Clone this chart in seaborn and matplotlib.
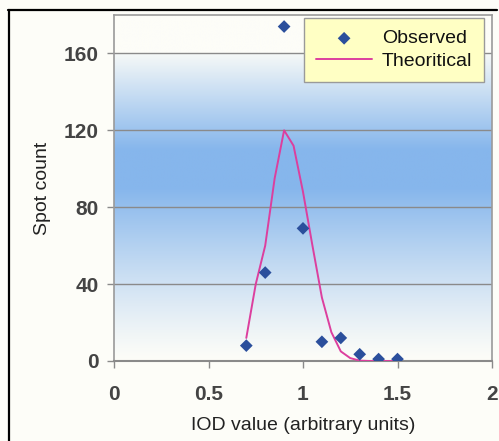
import numpy as np
import pandas as pd
import matplotlib
matplotlib.use("Agg")
import matplotlib.pyplot as plt
import seaborn as sns
from matplotlib.lines import Line2D

# ---- data ----
obs_x = [0.7, 0.8, 0.9, 1.0, 1.1, 1.2, 1.3, 1.4, 1.5]
obs_y = [8, 46, 174, 69, 10, 12, 3.5, 1, 1]
theo_x = [0.70, 0.75, 0.80, 0.85, 0.90, 0.95, 1.00, 1.05, 1.10, 1.15,
          1.20, 1.25, 1.30, 1.35, 1.40, 1.45, 1.50]
theo_y = [12, 40, 60, 95, 120, 112, 88, 60, 33, 15,
          5, 1.5, 0.2, 0, 0, 0, 0]
x_ticks = [0, 0.5, 1, 1.5, 2]
x_tick_labels = ["0", "0.5", "1", "1.5", "2"]
y_ticks = [0, 40, 80, 120, 160]
y_tick_labels = ["0", "40", "80", "120", "160"]
series_labels = ["Observed", "Theoritical"]
x_label = "IOD value (arbitrary units)"
y_label = "Spot count"

obs_df = pd.DataFrame({"x": obs_x, "y": obs_y})
theo_df = pd.DataFrame({"x": theo_x, "y": theo_y})

sns.set_theme(style="white")
plt.rcParams["font.family"] = ["Liberation Sans", "DejaVu Sans"]

bg = "#fdfdf8"
fig = plt.figure(figsize=(4.99, 4.41), dpi=100, facecolor=bg)
ax = fig.add_axes([114 / 499, 1 - 361 / 441, 378 / 499, 346 / 441])
ax.set_facecolor(bg)

# gradient background (Excel-style centre band between 0 and 160)
yy = np.linspace(0, 180, 720)
t = np.where(yy < 90, np.clip(yy / 90, 0, 1) ** 1.2,
             np.where(yy <= 110, 1.0,
                      np.where(yy <= 160, 1 - (yy - 110) / 50 * 0.94, 0.0)))
white = np.array([253, 253, 248]) / 255
blue = np.array([134, 182, 236]) / 255
img = white[None, :] * (1 - t[:, None]) + blue[None, :] * t[:, None]
img = np.repeat(img[:, None, :], 4, axis=1)
ax.imshow(img, extent=[0, 2, 0, 180], origin="lower", aspect="auto",
          zorder=0, interpolation="bilinear")

line_col = "#dc3f9e"
mk_col = "#2b4f9c"
sns.lineplot(data=theo_df, x="x", y="y", ax=ax, color=line_col, lw=1.4,
             sort=False, estimator=None, label=series_labels[1], zorder=3)
sns.scatterplot(data=obs_df, x="x", y="y", ax=ax, color=mk_col, marker="D",
                s=42, edgecolor="none", label=series_labels[0], zorder=4)

ax.set_xlim(0, 2)
ax.set_ylim(0, 180)
ax.set_xticks(x_ticks)
ax.set_xticklabels(x_tick_labels)
ax.set_yticks(y_ticks)
ax.set_yticklabels(y_tick_labels)
for yv in y_ticks[1:]:
    ax.axhline(yv, color="#8a8a8a", lw=1.0, zorder=1)

for s in ax.spines.values():
    s.set_color("#9a9a9a")
    s.set_linewidth(1.2)
    s.set_visible(True)
ax.spines["bottom"].set_color("#8a8a8a")
ax.spines["bottom"].set_linewidth(1.5)

ax.tick_params(axis="x", direction="out", length=5, width=1, color="#8a8a8a",
               pad=12, labelsize=15, labelcolor="#444444", bottom=True)
ax.tick_params(axis="y", direction="out", length=5, width=1, color="#8a8a8a",
               pad=6, labelsize=15, labelcolor="#444444", left=True)
for lab in ax.get_xticklabels() + ax.get_yticklabels():
    lab.set_fontweight("bold")

ax.set_xlabel(x_label, fontsize=14, color="#222222", labelpad=9.5)
ax.set_ylabel(y_label, fontsize=14, color="#222222", labelpad=9)

h, l = ax.get_legend_handles_labels()
order = [l.index(series_labels[0]), l.index(series_labels[1])]
leg = ax.legend([h[i] for i in order], [l[i] for i in order],
                loc="upper right", bbox_to_anchor=(0.979, 0.991),
                frameon=True, fancybox=False, framealpha=1,
                facecolor="#ffffc4", edgecolor="#9a9a9a",
                fontsize=14, handlelength=2.9, handletextpad=0.5,
                labelspacing=0.25, borderpad=0.6, borderaxespad=0)
leg.get_frame().set_linewidth(1.0)
for txt in leg.get_texts():
    txt.set_color("#111111")

# black frame lines of the picture
fig.add_artist(Line2D([8 / 499, 497 / 499], [1 - 10 / 441, 1 - 10 / 441],
                      transform=fig.transFigure, color="black", lw=1.6))
fig.add_artist(Line2D([9 / 499, 9 / 499], [0, 1 - 10 / 441],
                      transform=fig.transFigure, color="black", lw=1.6))

fig.savefig("out.png", dpi=100, facecolor=bg)
